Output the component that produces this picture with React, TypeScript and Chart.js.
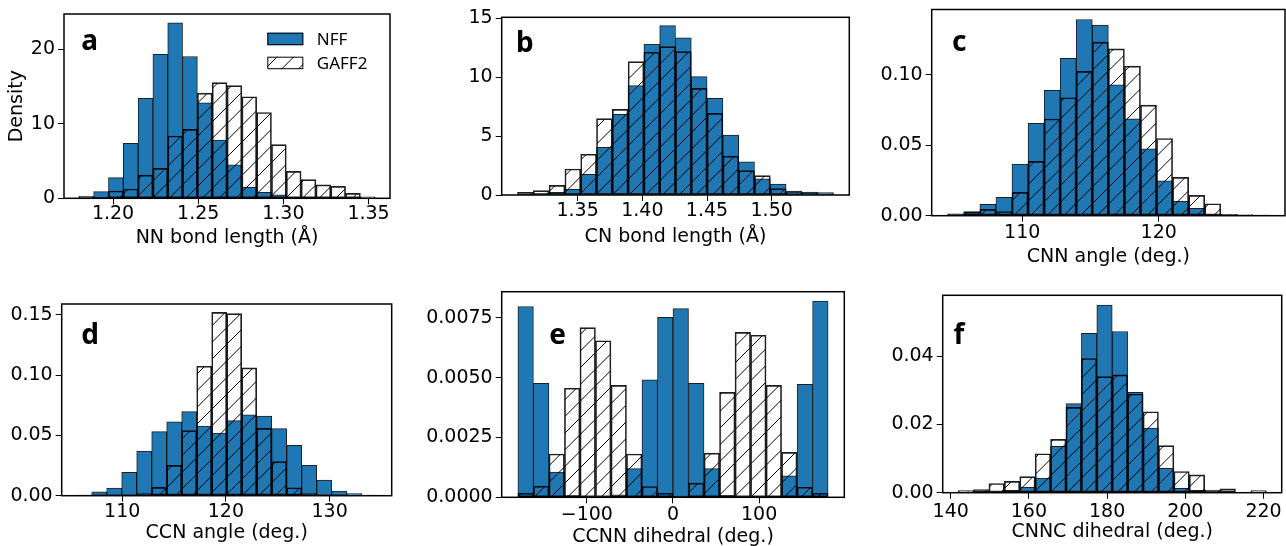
import React, { useEffect, useRef } from 'react';
import { Chart, registerables } from 'chart.js';

Chart.register(...registerables);

// ---------- Panel a : NN bond length ----------
const aBins = [1.18426, 1.19296, 1.20166, 1.21036, 1.21906, 1.22776, 1.23646, 1.24516, 1.25386, 1.26256, 1.27126, 1.27996, 1.28866, 1.29736, 1.30606, 1.31476, 1.32346, 1.33216, 1.34086, 1.34956];
const aNFF = [0.25, 0.9, 2.77, 7.37, 13.4, 19.3, 23.5, 19.0, 12.8, 7.8, 4.5, 1.47, 0.8, 0.45, 0.12, 0.05, 0.02, 0, 0, 0];
const aGAFF2 = [0.05, 0.12, 0.98, 1.25, 3.1, 4.0, 8.35, 9.24, 14.1, 15.5, 15.1, 13.6, 11.5, 7.2, 3.6, 2.5, 1.8, 1.6, 0.67, 0.2];
const aXTicks = [1.2, 1.25, 1.3, 1.35];
const aYTicks = [0, 10, 20];

// ---------- Panel b : CN bond length ----------
const bBins = [1.309617, 1.32183, 1.334043, 1.346256, 1.358469, 1.370682, 1.382895, 1.395108, 1.407321, 1.419534, 1.431747, 1.44396, 1.456173, 1.468386, 1.480599, 1.492812, 1.505025, 1.517238, 1.529451, 1.541664];
const bNFF = [0.05, 0.1, 0.23, 0.48, 1.75, 4.04, 6.84, 9.27, 12.8, 14.35, 13.33, 10.03, 8.2, 5.08, 2.82, 1.38, 0.93, 0.34, 0.25, 0.2];
const bGAFF2 = [0.23, 0.37, 0.82, 2.2, 3.45, 6.47, 7.26, 11.3, 12.1, 12.57, 12.15, 9.04, 6.92, 3.3, 2.06, 1.64, 0.54, 0.2, 0.15, 0.1];
const bXTicks = [1.35, 1.4, 1.45, 1.5];
const bYTicks = [0, 5, 10, 15];

// ---------- Panel c : CNN angle ----------
const cBins = [105.1276, 106.3048, 107.482, 108.6592, 109.8364, 111.0136, 112.1908, 113.368, 114.5452, 115.7224, 116.8996, 118.0768, 119.254, 120.4312, 121.6084, 122.7856, 123.9628, 125.14, 126.3172, 127.4944];
const cNFF = [0.0014, 0.003, 0.008, 0.013, 0.0366, 0.0655, 0.0889, 0.1116, 0.1392, 0.1352, 0.0929, 0.0688, 0.0475, 0.0248, 0.0102, 0.0052, 0.0005, 0.0008, 0.0004, 0.0002];
const cGAFF2 = [0.001, 0.0026, 0.0045, 0.003, 0.0165, 0.0385, 0.0686, 0.0837, 0.1024, 0.1232, 0.1184, 0.1061, 0.0785, 0.0548, 0.0272, 0.0144, 0.0085, 0.001, 0.0008, 0.0005];
const cXTicks = [110, 120];
const cYTicks = [0, 0.05, 0.1];

// ---------- Panel d : CCN angle ----------
const dBins = [106.3353, 107.7818, 109.2283, 110.6748, 112.1213, 113.5678, 115.0143, 116.4608, 117.9073, 119.3538, 120.8003, 122.2468, 123.6933, 125.1398, 126.5863, 128.0328, 129.4793, 130.9258, 132.3723, 133.8188];
const dNFF = [0.0006, 0.0033, 0.0064, 0.0194, 0.0371, 0.0531, 0.0612, 0.0697, 0.0578, 0.052, 0.0623, 0.067, 0.0661, 0.0556, 0.0418, 0.0252, 0.013, 0.0039, 0.0017, 0.0003];
const dGAFF2 = [0, 0, 0, 0.0003, 0.0017, 0.0069, 0.0252, 0.054, 0.1074, 0.152, 0.151, 0.106, 0.0559, 0.0282, 0.0066, 0.0017, 0.0003, 0, 0, 0];
const dXTicks = [110, 120, 130];
const dYTicks = [0, 0.05, 0.1, 0.15];

// ---------- Panel e : CCNN dihedral ----------
const eBins = [-171, -153, -135, -117, -99, -81, -63, -45, -27, -9, 9, 27, 45, 63, 81, 99, 117, 135, 153, 171];
const eNFF = [0.00798, 0.00477, 0.00105, 0.00007, 0, 0, 0.0001, 0.0012, 0.00491, 0.00753, 0.00789, 0.00477, 0.0012, 0.00008, 0, 0, 0.00004, 0.0009, 0.00473, 0.00821];
const eGAFF2 = [0.00017, 0.00047, 0.00181, 0.00456, 0.0071, 0.00655, 0.00468, 0.00181, 0.00045, 0.00017, 0.00005, 0.00059, 0.00185, 0.00439, 0.0069, 0.00678, 0.00468, 0.00188, 0.00042, 0.00017];
const eXTicks = [-100, 0, 100];
const eYTicks = [0, 0.0025, 0.005, 0.0075];

// ---------- Panel f : CNNC dihedral ----------
const fBins = [143.866, 147.807, 151.748, 155.689, 159.63, 163.571, 167.512, 171.453, 175.394, 179.335, 183.276, 187.217, 191.158, 195.099, 199.04, 202.981, 206.922, 210.863, 214.804, 218.745];
const fNFF = [0.0002, 0.0003, 0.0002, 0.0007, 0.0016, 0.0043, 0.0136, 0.0261, 0.0467, 0.0549, 0.0472, 0.0294, 0.0189, 0.0071, 0.0013, 0.0007, 0.0003, 0.0001, 0, 0.0001];
const fGAFF2 = [0.0006, 0.0009, 0.0027, 0.0033, 0.0047, 0.0114, 0.0156, 0.025, 0.0393, 0.034, 0.0345, 0.0289, 0.0237, 0.0138, 0.0062, 0.0052, 0.0008, 0.0011, 0, 0.0006];
const fXTicks = [140, 160, 180, 200, 220];
const fYTicks = [0, 0.02, 0.04];

const seriesNames = ['NFF', 'GAFF2'];

const BLUE = '#1f77b4';
const EDGE = 'rgba(0,0,0,0.88)';
const FONT = { family: 'DejaVu Sans', size: 19, lineHeight: 1 };
const TITLE_FONT = { family: 'DejaVu Sans', size: 19, lineHeight: 1.2 };

type Panel = {
  L: number; R: number; T: number; B: number;
  bins: number[]; nff: number[]; gaff: number[];
  xMin: number; xMax: number; yMax: number;
  xTicks: number[]; yTicks: number[]; xDec: number; yDec: number;
  xTitle: string; yTitle?: string;
  letter: string; ldx: number; ldy: number;
  tickOff: number; xlabOff: number; legend: boolean;
};

const panels: Panel[] = [
  { L: 64, R: 390, T: 14, B: 198.3, bins: aBins, nff: aNFF, gaff: aGAFF2, xMin: 1.17121, xMax: 1.3626, yMax: 24.69,
    xTicks: aXTicks, yTicks: aYTicks, xDec: 2, yDec: 0, xTitle: 'NN bond length (Å)', yTitle: 'Density',
    letter: 'a', ldx: 17.3, ldy: 36, tickOff: 15.4, xlabOff: 40, legend: true },
  { L: 501.7, R: 849.3, T: 17.3, B: 195, bins: bBins, nff: bNFF, gaff: bGAFF2, xMin: 1.2913, xMax: 1.56, yMax: 15.06,
    xTicks: bXTicks, yTicks: bYTicks, xDec: 2, yDec: 0, xTitle: 'CN bond length (Å)',
    letter: 'b', ldx: 14.4, ldy: 34.4, tickOff: 15.7, xlabOff: 42.3, legend: false },
  { L: 931.7, R: 1285, T: 9.5, B: 215.7, bins: cBins, nff: cNFF, gaff: cGAFF2, xMin: 103.362, xMax: 129.26, yMax: 0.1463,
    xTicks: cXTicks, yTicks: cYTicks, xDec: 0, yDec: 2, xTitle: 'CNN angle (deg.)',
    letter: 'c', ldx: 20.2, ldy: 41.4, tickOff: 17.5, xlabOff: 41, legend: false },
  { L: 61.7, R: 391.7, T: 304, B: 495.7, bins: dBins, nff: dNFF, gaff: dGAFF2, xMin: 104.165, xMax: 135.99, yMax: 0.159,
    xTicks: dXTicks, yTicks: dYTicks, xDec: 0, yDec: 2, xTitle: 'CCN angle (deg.)',
    letter: 'd', ldx: 19.5, ldy: 40, tickOff: 16, xlabOff: 37.6, legend: false },
  { L: 501.7, R: 844.3, T: 291.7, B: 497.3, bins: eBins, nff: eNFF, gaff: eGAFF2, xMin: -198.8, xMax: 198.8, yMax: 0.0086,
    xTicks: eXTicks, yTicks: eYTicks, xDec: 0, yDec: 4, xTitle: 'CCNN dihedral (deg.)',
    letter: 'e', ldx: 47.6, ldy: 52.3, tickOff: 17.7, xlabOff: 39.4, legend: false },
  { L: 942.7, R: 1281.7, T: 295.3, B: 492.7, bins: fBins, nff: fNFF, gaff: fGAFF2, xMin: 137.954, xMax: 224.65, yMax: 0.0578,
    xTicks: fXTicks, yTicks: fYTicks, xDec: 0, yDec: 2, xTitle: 'CNNC dihedral (deg.)',
    letter: 'f', ldx: 10.7, ldy: 48.7, tickOff: 19, xlabOff: 39, legend: false },
];

function fmt(v: number, dec: number): string {
  const s = Math.abs(v).toFixed(dec);
  return v < 0 ? '\u2212' + s : s;
}

function makeHatch(): CanvasPattern | string {
  const s = 50;
  const c = document.createElement('canvas');
  c.width = s;
  c.height = s;
  const g = c.getContext('2d');
  if (!g) return 'rgba(0,0,0,0)';
  g.strokeStyle = '#000';
  g.lineWidth = 1;
  const step = s / 3;
  g.beginPath();
  for (let k = -1; k <= 7; k++) {
    const cc = k * step;
    g.moveTo(-10, cc + 10);
    g.lineTo(cc + 10, -10);
  }
  g.stroke();
  return g.createPattern(c, 'repeat') || 'rgba(0,0,0,0)';
}

const framePlugin = {
  id: 'frame',
  afterDatasetsDraw(chart: any) {
    const { ctx, chartArea: a } = chart;
    ctx.save();
    ctx.strokeStyle = '#000';
    ctx.lineWidth = 1.5;
    ctx.strokeRect(a.left, a.top, a.right - a.left, a.bottom - a.top);
    ctx.restore();
  },
};

const letterPlugin = {
  id: 'panelLetter',
  afterDraw(chart: any, _args: any, opts: any) {
    const { ctx, chartArea: a } = chart;
    ctx.save();
    ctx.fillStyle = '#000';
    ctx.font = 'bold 28px "Noto Sans"';
    ctx.textBaseline = 'alphabetic';
    ctx.textAlign = 'left';
    ctx.fillText(opts.text, a.left + opts.dx, a.top + opts.dy);
    ctx.restore();
  },
};

const legendPlugin = {
  id: 'boxLegend',
  afterDraw(chart: any, _args: any, opts: any) {
    if (!opts.show) return;
    const { ctx, chartArea: a } = chart;
    const x0 = a.right - opts.fromRight;
    let y = a.top + opts.top;
    chart.data.datasets.forEach((ds: any) => {
      ctx.save();
      ctx.fillStyle = ds.backgroundColor;
      ctx.fillRect(x0, y, opts.boxW, opts.boxH);
      ctx.strokeStyle = '#000';
      ctx.lineWidth = 1;
      ctx.strokeRect(x0 + 0.5, y + 0.5, opts.boxW - 1, opts.boxH - 1);
      ctx.fillStyle = '#000';
      ctx.font = '17px "Noto Sans"';
      ctx.textBaseline = 'middle';
      ctx.textAlign = 'left';
      ctx.fillText(ds.label, x0 + opts.textDx, y + opts.boxH / 2 + 1);
      ctx.restore();
      y += opts.rowH;
    });
  },
};

function HistPanel({ p }: { p: Panel }) {
  const ref = useRef<HTMLCanvasElement>(null);
  const cl = Math.floor(p.L) - 80;
  const ct = Math.floor(p.T) - 14;
  const cw = Math.ceil(p.R) + 20 - cl;
  const ch = Math.ceil(p.B) + 60 - ct;
  const wy = p.L - cl;
  const pt = p.T - ct;
  const pr = cl + cw - p.R;
  const hx = ct + ch - p.B;

  useEffect(() => {
    if (!ref.current) return;
    const hatch = makeHatch();
    const common = {
      borderColor: EDGE,
      borderWidth: 1,
      borderSkipped: false,
      grouped: false,
      barPercentage: 1,
      categoryPercentage: 1,
    };
    const chart = new Chart(ref.current, {
      type: 'bar',
      data: {
        datasets: [
          { ...common, label: seriesNames[0], data: p.bins.map((x, i) => ({ x, y: p.nff[i] })), backgroundColor: BLUE, order: 2 },
          { ...common, label: seriesNames[1], data: p.bins.map((x, i) => ({ x, y: p.gaff[i] })), backgroundColor: hatch as any, order: 1 },
        ],
      } as any,
      options: {
        responsive: false,
        animation: false,
        events: [],
        layout: { padding: { left: 0, top: pt, right: pr, bottom: 0 } },
        plugins: {
          legend: { display: false },
          tooltip: { enabled: false },
          boxLegend: { show: p.legend, fromRight: 122.7, top: 18.7, boxW: 36, boxH: 12.5, textDx: 49.5, rowH: 24 },
          panelLetter: { text: p.letter, dx: p.ldx, dy: p.ldy },
        } as any,
        scales: {
          x: {
            type: 'linear',
            min: p.xMin,
            max: p.xMax,
            offset: false,
            grid: { display: true, drawOnChartArea: false, drawTicks: true, tickLength: 6, tickColor: '#000', tickWidth: 1, offset: false },
            border: { display: false },
            ticks: {
              font: FONT, color: '#000', padding: Math.max(0, p.tickOff - 15.5), maxRotation: 0, autoSkip: false,
              callback: (v: any) => fmt(Number(v), p.xDec),
            },
            afterBuildTicks: (s: any) => { s.ticks = p.xTicks.map((v) => ({ value: v })); },
            afterFit: (s: any) => { s.height = hx; },
            title: { display: true, text: p.xTitle, font: TITLE_FONT, color: '#000', padding: { top: 0, bottom: hx - p.xlabOff - 11.4 } },
          },
          y: {
            type: 'linear',
            min: 0,
            max: p.yMax,
            grid: { display: true, drawOnChartArea: false, drawTicks: true, tickLength: 6, tickColor: '#000', tickWidth: 1 },
            border: { display: false },
            ticks: {
              font: FONT, color: '#000', padding: 3, autoSkip: false,
              callback: (v: any) => fmt(Number(v), p.yDec),
            },
            afterBuildTicks: (s: any) => { s.ticks = p.yTicks.map((v) => ({ value: v })); },
            afterFit: (s: any) => { s.width = wy; },
            title: { display: !!p.yTitle, text: p.yTitle || '', font: TITLE_FONT, color: '#000', padding: { top: 22.1 - (cl + 16), bottom: 0 } },
          },
        },
      } as any,
      plugins: [framePlugin, letterPlugin, legendPlugin],
    });
    return () => chart.destroy();
  }, []);

  return (
    <canvas
      ref={ref}
      width={cw}
      height={ch}
      style={{ position: 'absolute', left: cl, top: ct, width: cw, height: ch }}
    />
  );
}

export default function App() {
  return (
    <div style={{ position: 'absolute', left: 0, top: 0, width: 1286, height: 546, overflow: 'hidden', background: '#fff' }}>
      {panels.map((p, i) => (
        <HistPanel key={i} p={p} />
      ))}
    </div>
  );
}
